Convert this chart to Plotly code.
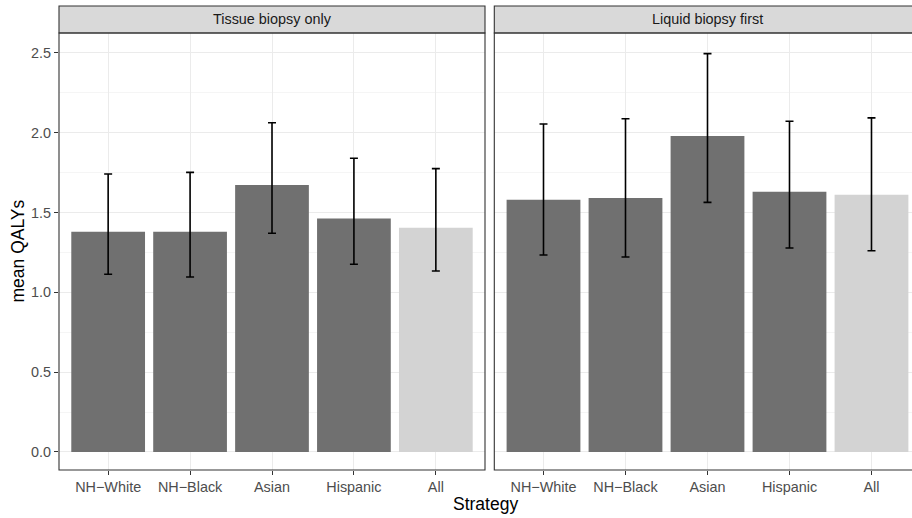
import plotly.graph_objects as go

categories = ["NH\u2212White", "NH\u2212Black", "Asian", "Hispanic", "All"]
panels = ["Tissue biopsy only", "Liquid biopsy first"]

tissue_mean = [1.380, 1.380, 1.673, 1.462, 1.405]
tissue_low = [1.113, 1.096, 1.370, 1.176, 1.134]
tissue_high = [1.742, 1.752, 2.063, 1.840, 1.775]

liquid_mean = [1.581, 1.591, 1.980, 1.631, 1.612]
liquid_low = [1.234, 1.222, 1.564, 1.278, 1.261]
liquid_high = [2.055, 2.088, 2.496, 2.072, 2.093]

bar_colors = ["#707070", "#707070", "#707070", "#707070", "#D3D3D3"]

W, H = 912, 518
ML, MR, MT, MB = 59, 0, 6, 48
pw = W - ML - MR
ph = H - MT - MB
ydom_top = (470 - 33) / (470 - 6)

left_dom = [0, 426 / pw]
right_dom = [(494.3 - ML) / pw, 1]

FONT = "Liberation Sans, Arial, Helvetica, sans-serif"

fig = go.Figure()

data = [(tissue_mean, tissue_low, tissue_high), (liquid_mean, liquid_low, liquid_high)]
for i, (m, lo, hi) in enumerate(data):
    xa = "x" if i == 0 else "x2"
    ya = "y" if i == 0 else "y2"
    fig.add_trace(go.Bar(
        x=categories, y=m, width=0.9,
        marker=dict(color=bar_colors, line=dict(width=0)),
        error_y=dict(type="data", symmetric=False,
                     array=[h - v for h, v in zip(hi, m)],
                     arrayminus=[v - l for v, l in zip(m, lo)],
                     color="black", thickness=1.6, width=4),
        xaxis=xa, yaxis=ya, showlegend=False,
    ))

axis_common = dict(
    showline=False, ticklen=4, tickcolor="#333333", tickwidth=1,
    tickfont=dict(family=FONT, size=14.4, color="#4D4D4D"),
    showgrid=True, gridcolor="#EBEBEB", gridwidth=1, zeroline=False,
)

yrange = [-0.113, 2.625]
fig.update_layout(
    width=W, height=H,
    margin=dict(l=ML, r=MR, t=MT, b=MB),
    paper_bgcolor="white", plot_bgcolor="white",
    xaxis=dict(domain=left_dom, range=[-0.6, 4.6], type="category", anchor="y",
               ticks="outside", **axis_common),
    xaxis2=dict(domain=right_dom, range=[-0.6, 4.494], type="category", anchor="y2",
                ticks="outside", **axis_common),
    yaxis=dict(domain=[0, ydom_top], range=yrange, anchor="x", tickformat=".1f",
               dtick=0.5, tick0=0, ticks="outside",
               minor=dict(showgrid=True, gridcolor="#F5F5F5", dtick=0.25, tick0=0, ticks=""),
               **axis_common),
    yaxis2=dict(domain=[0, ydom_top], range=yrange, anchor="x2", matches="y",
                showticklabels=False, ticks="", dtick=0.5, tick0=0,
                minor=dict(showgrid=True, gridcolor="#F5F5F5", dtick=0.25, tick0=0, ticks=""),
                **axis_common),
    font=dict(family=FONT),
)

shapes = []
annotations = []
doms = [left_dom, [right_dom[0], 1.02]]
centers = [(left_dom[0] + left_dom[1]) / 2, right_dom[0] + 213 / pw]
for i, d in enumerate(doms):
    shapes.append(dict(type="rect", xref="paper", yref="paper",
                       x0=d[0], x1=d[1], y0=ydom_top, y1=1,
                       fillcolor="#D9D9D9", line=dict(color="#333333", width=1.1), layer="above"))
    shapes.append(dict(type="rect", xref="paper", yref="paper",
                       x0=d[0], x1=d[1], y0=0, y1=ydom_top,
                       fillcolor="rgba(0,0,0,0)", line=dict(color="#333333", width=1.1), layer="above"))
    annotations.append(dict(text=panels[i], xref="paper", yref="paper",
                            x=centers[i], y=(ydom_top + 1) / 2, showarrow=False,
                            xanchor="center", yanchor="middle",
                            font=dict(family=FONT, size=14.4, color="#1A1A1A")))

annotations.append(dict(text="mean QALYs", xref="paper", yref="paper",
                        x=-(ML - 18) / pw, y=ydom_top / 2, showarrow=False,
                        xanchor="center", yanchor="middle", textangle=-90,
                        font=dict(family=FONT, size=17.5, color="black")))
annotations.append(dict(text="Strategy", xref="paper", yref="paper",
                        x=(485.5 - ML) / pw, y=-(504 - 470) / ph, showarrow=False,
                        xanchor="center", yanchor="middle",
                        font=dict(family=FONT, size=17.5, color="black")))

fig.update_layout(shapes=shapes, annotations=annotations)
fig.write_html("out.html")
